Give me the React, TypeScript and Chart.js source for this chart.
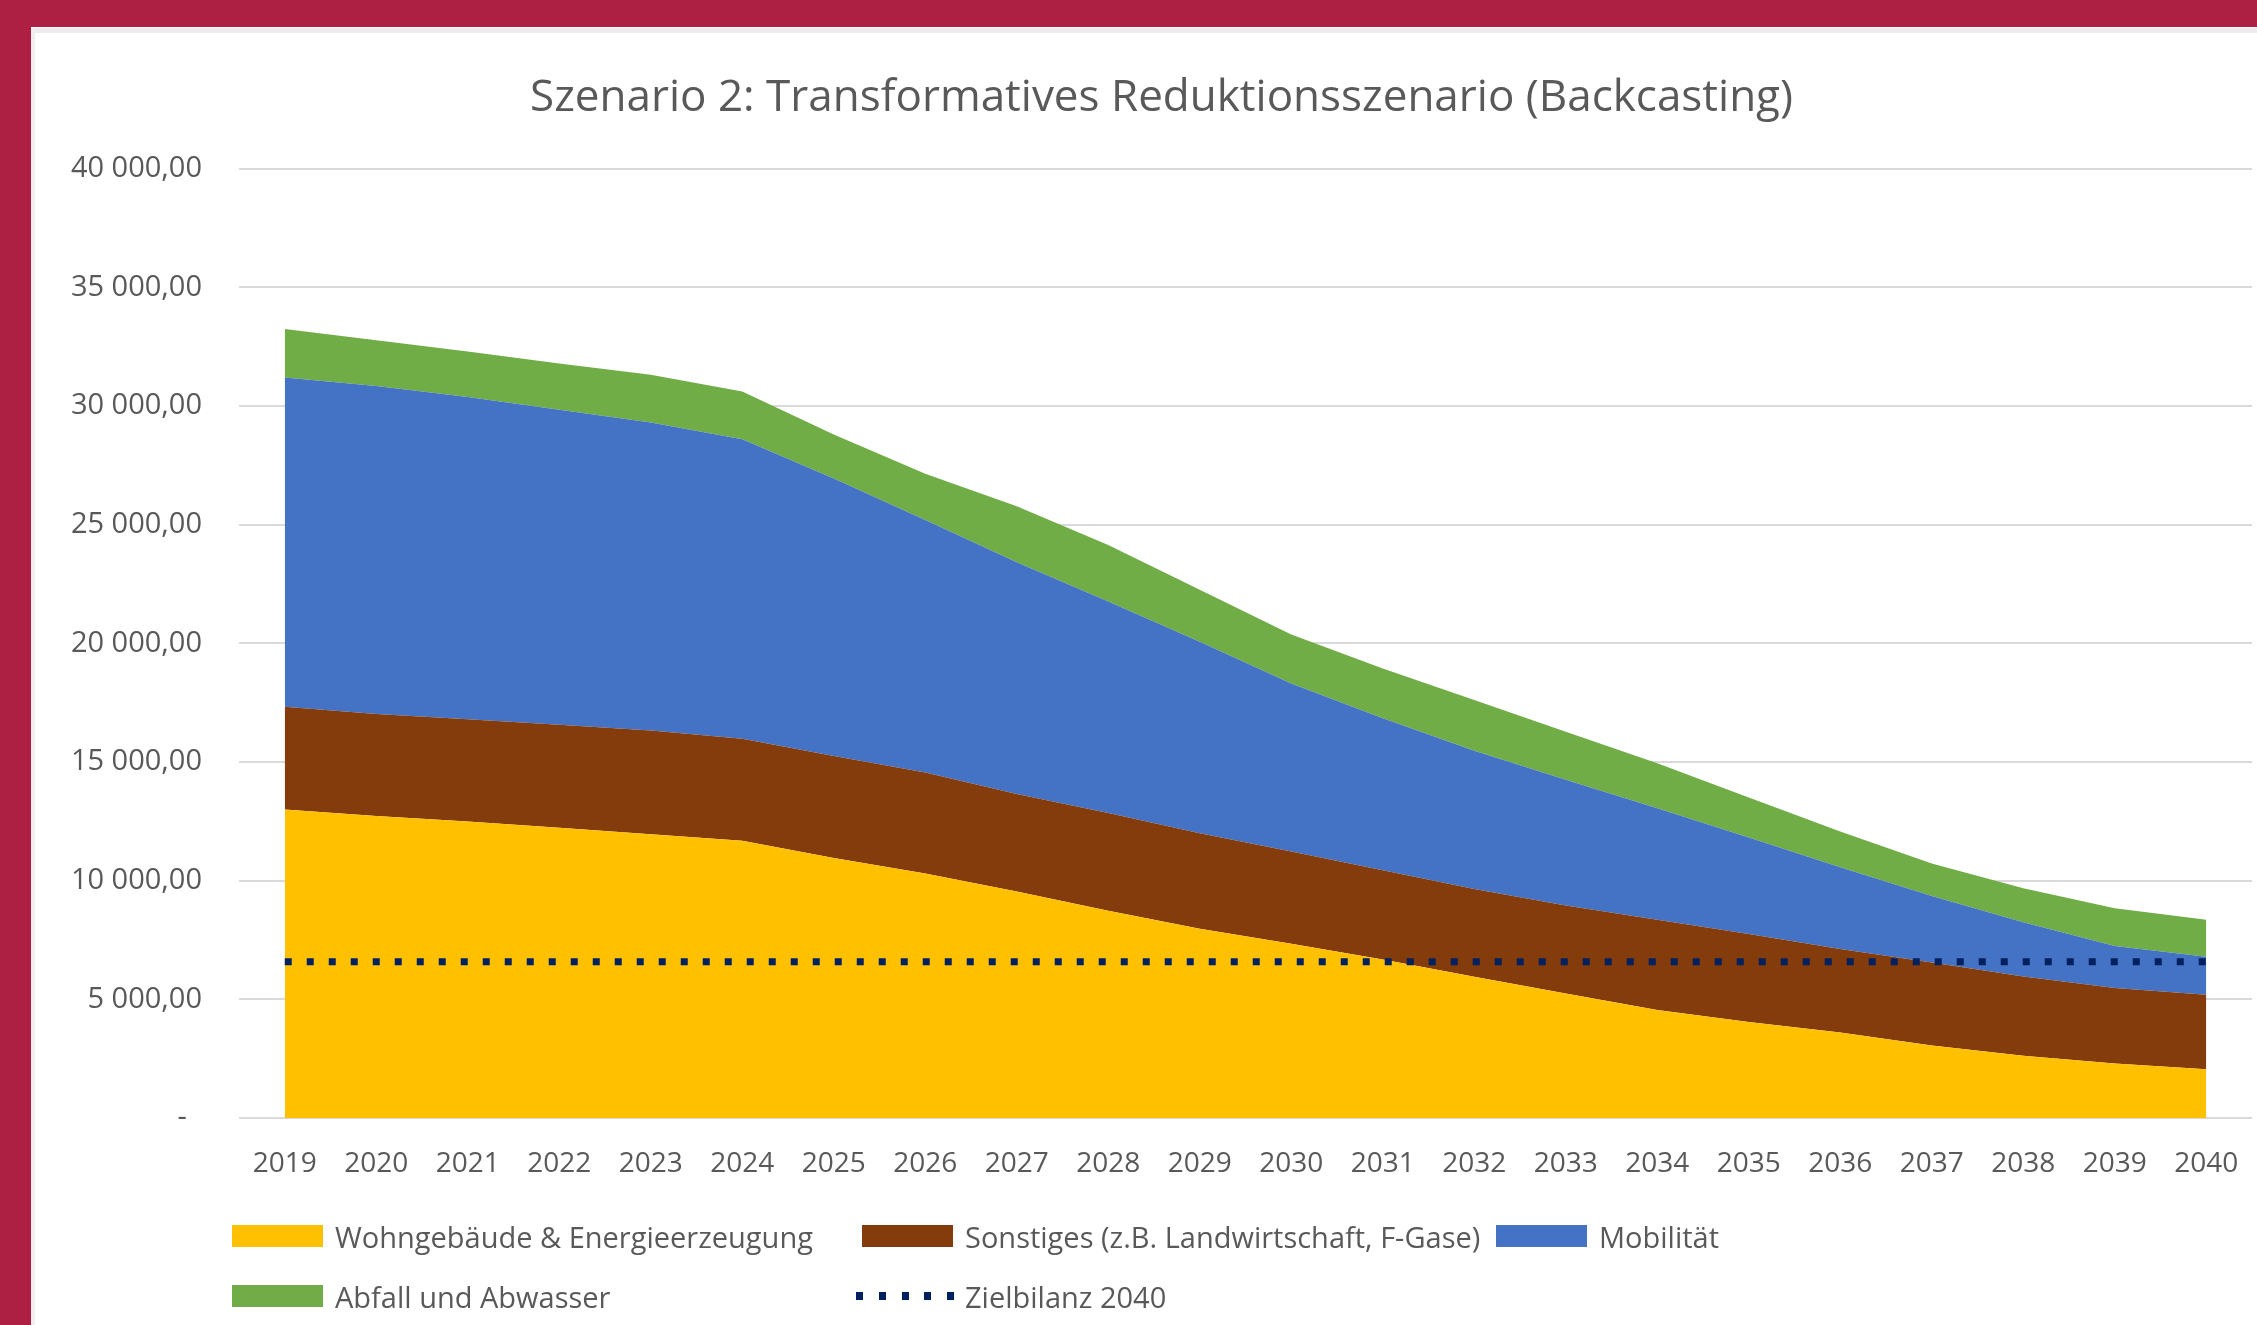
import React, { useEffect, useRef } from 'react';
import { Chart, registerables } from 'chart.js';

Chart.register(...registerables);

const TITLE = 'Szenario 2: Transformatives Reduktionsszenario (Backcasting)';

const years = ['2019', '2020', '2021', '2022', '2023', '2024', '2025', '2026', '2027', '2028', '2029',
  '2030', '2031', '2032', '2033', '2034', '2035', '2036', '2037', '2038', '2039', '2040'];

const seriesNames = [
  'Wohngebäude & Energieerzeugung',
  'Sonstiges (z.B. Landwirtschaft, F-Gase)',
  'Mobilität',
  'Abfall und Abwasser',
  'Zielbilanz 2040',
];

const wohngebaeude = [13000, 12730, 12500, 12230, 11960, 11680, 10960, 10300, 9540, 8730, 7970,
  7340, 6680, 5950, 5250, 4550, 4050, 3600, 3050, 2620, 2300, 2050];
const sonstiges = [4330, 4300, 4300, 4340, 4370, 4300, 4300, 4260, 4110, 4120, 4030,
  3890, 3760, 3700, 3700, 3800, 3700, 3520, 3500, 3340, 3180, 3140];
const mobilitaet = [13870, 13820, 13580, 13280, 12980, 12620, 11690, 10640, 9770, 8920, 8070,
  7080, 6410, 5830, 5300, 4700, 4070, 3450, 2800, 2290, 1770, 1610];
const abfall = [2050, 1930, 1920, 1940, 2010, 2010, 1850, 1950, 2360, 2380, 2190,
  2070, 2090, 2130, 2030, 1900, 1690, 1500, 1370, 1430, 1590, 1550];
const zielbilanz = [6580, 6580, 6580, 6580, 6580, 6580, 6580, 6580, 6580, 6580, 6580,
  6580, 6580, 6580, 6580, 6580, 6580, 6580, 6580, 6580, 6580, 6580];

const yTickValues = [0, 5000, 10000, 15000, 20000, 25000, 30000, 35000, 40000];
const yTickLabels = ['-  ', '5 000,00', '10 000,00', '15 000,00', '20 000,00', '25 000,00', '30 000,00', '35 000,00', '40 000,00'];

const COLORS = {
  yellow: '#FFC000',
  brown: '#843C0C',
  blue: '#4472C4',
  green: '#70AD47',
  navy: '#002060',
  text: '#595959',
  grid: '#d9d9d9',
  maroon: '#AD1F43',
};

const FONT = "'Open Sans', 'Noto Sans', sans-serif";
const LEGEND_SIZE = 29;

function LegendBox({ left, top, color, label }: { left: number; top: number; color: string; label: string }) {
  return (
    <div style={{ position: 'absolute', left, top: top - 20, height: 40, display: 'flex', alignItems: 'center' }}>
      <div style={{ width: 91, height: 22, background: color, marginRight: 12 }} />
      <span style={{ font: `${LEGEND_SIZE}px ${FONT}`, color: COLORS.text, whiteSpace: 'nowrap' }}>{label}</span>
    </div>
  );
}

function LegendDots({ left, top, color, label }: { left: number; top: number; color: string; label: string }) {
  return (
    <div style={{ position: 'absolute', left, top: top - 20, height: 40, display: 'flex', alignItems: 'center' }}>
      <div style={{ width: 98, height: 8, marginRight: 11, display: 'flex', justifyContent: 'space-between' }}>
        {[0, 1, 2, 3, 4].map((i) => (
          <div key={i} style={{ width: 7, height: 8, background: color }} />
        ))}
      </div>
      <span style={{ font: `${LEGEND_SIZE}px ${FONT}`, color: COLORS.text, whiteSpace: 'nowrap' }}>{label}</span>
    </div>
  );
}

export default function App() {
  const ref = useRef<HTMLCanvasElement | null>(null);

  useEffect(() => {
    if (!ref.current) return;
    const chart = new Chart(ref.current, {
      type: 'line',
      data: {
        labels: years,
        datasets: [
          { label: seriesNames[0], data: wohngebaeude, backgroundColor: COLORS.yellow, borderWidth: 0, pointRadius: 0, fill: 'origin', stack: 'areas', order: 1 },
          { label: seriesNames[1], data: sonstiges, backgroundColor: COLORS.brown, borderWidth: 0, pointRadius: 0, fill: '-1', stack: 'areas', order: 1 },
          { label: seriesNames[2], data: mobilitaet, backgroundColor: COLORS.blue, borderWidth: 0, pointRadius: 0, fill: '-1', stack: 'areas', order: 1 },
          { label: seriesNames[3], data: abfall, backgroundColor: COLORS.green, borderWidth: 0, pointRadius: 0, fill: '-1', stack: 'areas', order: 1 },
          { label: seriesNames[4], data: zielbilanz, borderColor: COLORS.navy, borderWidth: 7, borderDash: [7, 15], borderCapStyle: 'butt', pointRadius: 0, fill: false, stack: 'target', order: 0 },
        ],
      },
      options: {
        responsive: false,
        animation: false,
        events: [],
        layout: { padding: { left: 40, right: 5, top: 0, bottom: 127 } },
        plugins: {
          legend: { display: false },
          tooltip: { enabled: false },
          title: {
            display: true,
            text: TITLE,
            color: COLORS.text,
            font: { family: FONT, size: 44, weight: 'normal' },
            padding: { top: 45, bottom: 44 },
          },
        },
        scales: {
          x: {
            offset: true,
            grid: { display: false, drawTicks: false },
            border: { display: false },
            ticks: { color: COLORS.text, font: { family: FONT, size: 28 }, padding: 29, autoSkip: false, maxRotation: 0 },
            afterFit: (s: any) => { s.height = 80; s.paddingLeft = 0; s.paddingRight = 0; },
          },
          y: {
            stacked: true,
            min: 0,
            max: 40000,
            afterBuildTicks: (s: any) => { s.ticks = yTickValues.map((v) => ({ value: v })); },
            ticks: {
              color: COLORS.text,
              font: { family: FONT, size: 29 },
              padding: 37,
              callback: (v: any) => yTickLabels[yTickValues.indexOf(Number(v))] ?? '',
            },
            grid: { color: COLORS.grid, lineWidth: 2, drawTicks: false },
            border: { display: false },
            afterFit: (s: any) => { s.width = 168; },
          },
        },
      },
    } as any);
    return () => chart.destroy();
  }, []);

  return (
    <div style={{ position: 'absolute', left: 0, top: 0, width: 2257, height: 1325, background: COLORS.maroon, overflow: 'hidden' }}>
      <div style={{ position: 'absolute', left: 31, top: 27, width: 2226, height: 1298, background: '#ffffff' }} />
      <div style={{ position: 'absolute', left: 31, top: 28, width: 2226, height: 5, background: '#ececec' }} />
      <div style={{ position: 'absolute', left: 31, top: 28, width: 4, height: 1297, background: '#eeeeee' }} />
      <canvas ref={ref} width={2226} height={1298} style={{ position: 'absolute', left: 31, top: 27, width: 2226, height: 1298 }} />
      <LegendBox left={232} top={1236} color={COLORS.yellow} label={seriesNames[0]} />
      <LegendBox left={862} top={1236} color={COLORS.brown} label={seriesNames[1]} />
      <LegendBox left={1496} top={1236} color={COLORS.blue} label={seriesNames[2]} />
      <LegendBox left={232} top={1296} color={COLORS.green} label={seriesNames[3]} />
      <LegendDots left={856} top={1296} color={COLORS.navy} label={seriesNames[4]} />
    </div>
  );
}
